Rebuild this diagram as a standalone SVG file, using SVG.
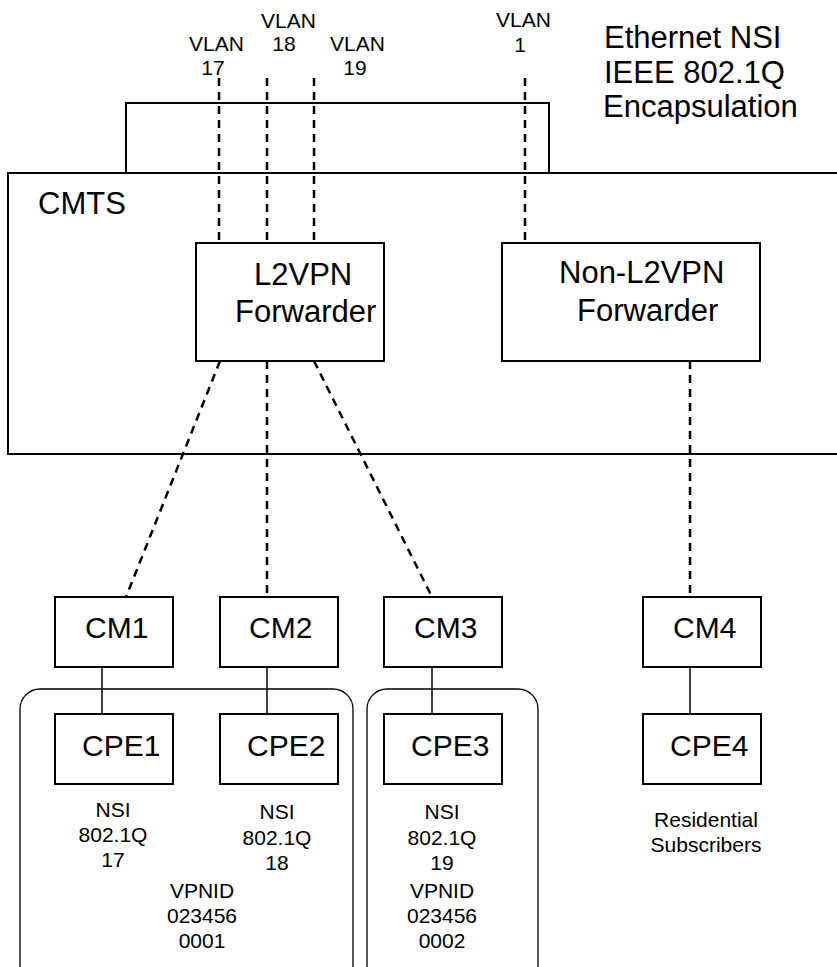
<svg xmlns="http://www.w3.org/2000/svg" width="837" height="967" viewBox="0 0 837 967">
<style>
text{font-family:"Liberation Sans",Arial,sans-serif;fill:#000}
.big{font-size:31px}
.mid{font-size:30px}
.sm{font-size:21px;text-anchor:middle}
.box{fill:#fff;stroke:#000;stroke-width:2}
.grp{fill:none;stroke:#000;stroke-width:1.3}
.dash{fill:none;stroke:#000;stroke-width:2.5;stroke-dasharray:8 6}
.solid{fill:none;stroke:#000;stroke-width:1.5}
</style>
<rect width="837" height="967" fill="#fff"/>
<g id="nsi-label">
<text class="big" x="604" y="48">Ethernet NSI</text>
<text class="big" x="604" y="83">IEEE 802.1Q</text>
<text class="big" x="603" y="117">Encapsulation</text>
</g>
<g id="nsi-bracket">
<polyline points="126,173 126,103 549,103 549,173" fill="none" stroke="#000" stroke-width="2"/>
</g>
<g id="cmts">
<path d="M840,173 H8 V454 H840" fill="none" stroke="#000" stroke-width="2"/>
<text class="big" x="38" y="214">CMTS</text>
</g>
<g id="vlan-labels">
<text class="sm" x="216.5" y="51">VLAN</text>
<text class="sm" x="213" y="75">17</text>
<text class="sm" x="288.5" y="28">VLAN</text>
<text class="sm" x="284" y="51">18</text>
<text class="sm" x="357.5" y="51">VLAN</text>
<text class="sm" x="355" y="75">19</text>
<text class="sm" x="523.5" y="27">VLAN</text>
<text class="sm" x="520" y="52">1</text>
</g>
<g id="l2vpn-forwarder">
<rect class="box" x="196" y="243" width="188" height="118"/>
<text class="big" x="254" y="285">L2VPN</text>
<text class="big" x="235" y="322">Forwarder</text>
</g>
<g id="non-l2vpn-forwarder">
<rect class="box" x="502" y="243" width="258" height="118"/>
<text class="big" x="559" y="283">Non-L2VPN</text>
<text class="big" x="577" y="321">Forwarder</text>
</g>
<g id="groups">
<rect class="grp" x="20" y="689" width="333" height="320" rx="20"/>
<rect class="grp" x="367" y="689" width="171" height="320" rx="20"/>
</g>
<g id="connectors">
<line class="dash" x1="219" y1="78" x2="219" y2="243"/>
<line class="dash" x1="267" y1="78" x2="267" y2="243"/>
<line class="dash" x1="314" y1="78" x2="314" y2="243"/>
<line class="dash" x1="525" y1="78" x2="525" y2="243"/>
<line class="dash" x1="220" y1="361" x2="126" y2="597"/>
<line class="dash" x1="267" y1="361" x2="267" y2="597"/>
<line class="dash" x1="314" y1="361" x2="432" y2="597"/>
<line class="dash" x1="690" y1="361" x2="690" y2="597"/>
<line class="solid" x1="102" y1="667" x2="102" y2="714"/>
<line class="solid" x1="267" y1="667" x2="267" y2="714"/>
<line class="solid" x1="432" y1="667" x2="432" y2="714"/>
<line class="solid" x1="690" y1="667" x2="690" y2="714"/>
</g>
<g id="cm1"><rect class="box" x="55" y="597" width="118" height="70"/><text class="mid" x="85" y="638">CM1</text></g>
<g id="cm2"><rect class="box" x="220" y="597" width="118" height="70"/><text class="mid" x="249" y="638">CM2</text></g>
<g id="cm3"><rect class="box" x="384" y="597" width="118" height="70"/><text class="mid" x="414" y="638">CM3</text></g>
<g id="cm4"><rect class="box" x="643" y="597" width="118" height="70"/><text class="mid" x="673" y="638">CM4</text></g>
<g id="cpe1"><rect class="box" x="55" y="714" width="118" height="70"/><text class="mid" x="82" y="756">CPE1</text></g>
<g id="cpe2"><rect class="box" x="220" y="714" width="118" height="70"/><text class="mid" x="247" y="756">CPE2</text></g>
<g id="cpe3"><rect class="box" x="384" y="714" width="118" height="70"/><text class="mid" x="411" y="756">CPE3</text></g>
<g id="cpe4"><rect class="box" x="643" y="714" width="118" height="70"/><text class="mid" x="670" y="756">CPE4</text></g>
<g id="labels">
<text class="sm" x="113" y="817">NSI</text>
<text class="sm" x="113" y="842">802.1Q</text>
<text class="sm" x="113" y="867">17</text>
<text class="sm" x="277" y="819">NSI</text>
<text class="sm" x="277" y="845">802.1Q</text>
<text class="sm" x="277" y="870">18</text>
<text class="sm" x="202" y="898">VPNID</text>
<text class="sm" x="202" y="923">023456</text>
<text class="sm" x="202" y="948">0001</text>
<text class="sm" x="442" y="819">NSI</text>
<text class="sm" x="442" y="845">802.1Q</text>
<text class="sm" x="442" y="870">19</text>
<text class="sm" x="442" y="898">VPNID</text>
<text class="sm" x="442" y="923">023456</text>
<text class="sm" x="442" y="948">0002</text>
<text class="sm" x="706" y="827">Residential</text>
<text class="sm" x="706" y="852">Subscribers</text>
</g>
</svg>
